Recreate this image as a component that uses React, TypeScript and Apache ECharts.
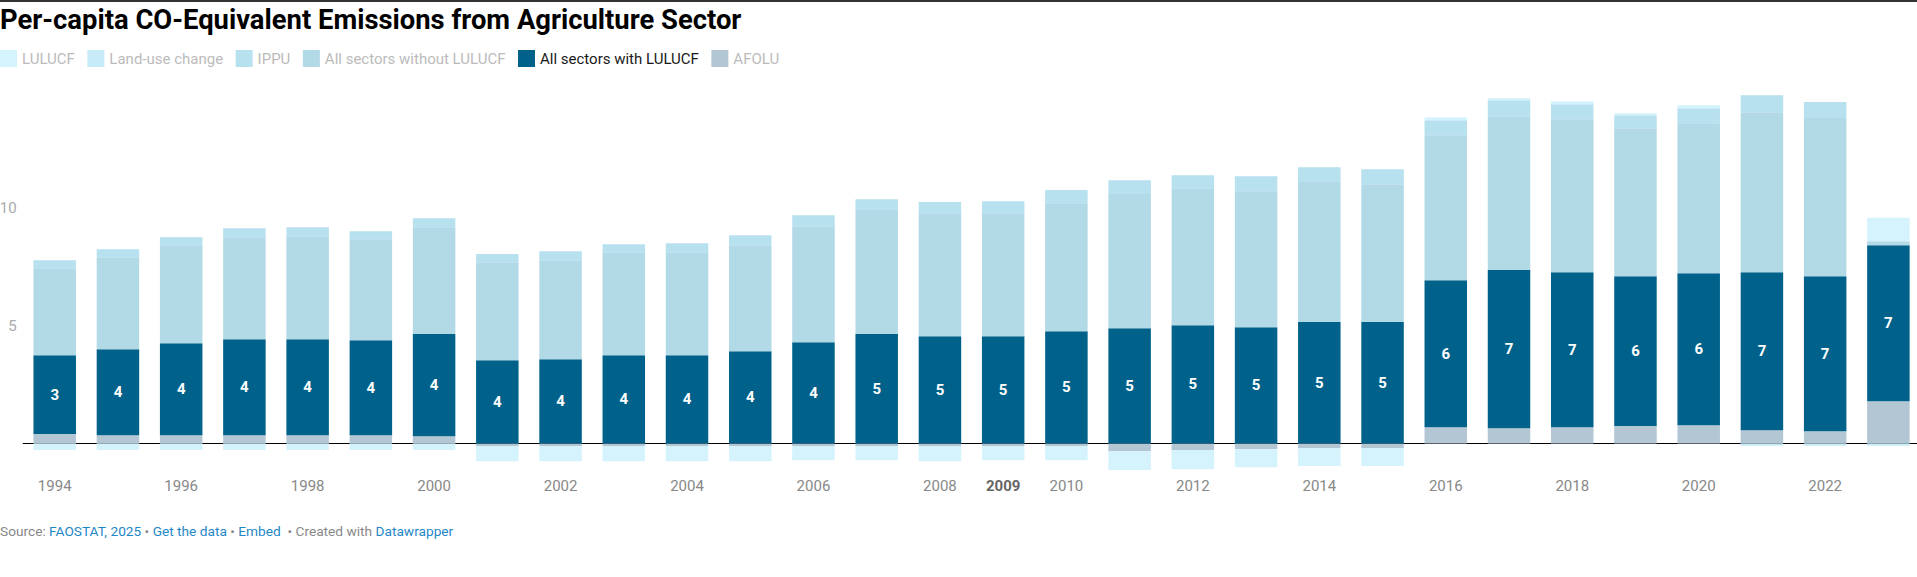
import React, { useEffect, useRef } from 'react';
import * as echarts from 'echarts';

const years = [
  '1994', '1995', '1996', '1997', '1998', '1999', '2000', '2001', '2002', '2003',
  '2004', '2005', '2006', '2007', '2008', '2009', '2010', '2011', '2012', '2013',
  '2014', '2015', '2016', '2017', '2018', '2019', '2020', '2021', '2022', '2023',
];

const afolu = [
  0.40, 0.35, 0.35, 0.35, 0.35, 0.35, 0.31, -0.11, -0.11, -0.11,
  -0.11, -0.11, -0.11, -0.11, -0.11, -0.11, -0.11, -0.33, -0.28, -0.24,
  -0.20, -0.20, 0.69, 0.65, 0.69, 0.74, 0.78, 0.56, 0.52, 1.80,
];

const allWithLulucf = [
  3.35, 3.66, 3.91, 4.08, 4.08, 4.04, 4.34, 3.54, 3.58, 3.75,
  3.75, 3.92, 4.30, 4.65, 4.56, 4.56, 4.77, 4.90, 5.03, 4.94,
  5.16, 5.16, 6.25, 6.72, 6.59, 6.37, 6.46, 6.72, 6.59, 6.63,
];

const allWithoutLulucf = [
  3.70, 3.91, 4.17, 4.34, 4.38, 4.29, 4.54, 4.16, 4.21, 4.38,
  4.38, 4.51, 4.93, 5.27, 5.23, 5.23, 5.44, 5.70, 5.82, 5.78,
  5.99, 5.86, 6.16, 6.54, 6.50, 6.29, 6.37, 6.80, 6.72, 0.17,
];

const ippu = [
  0.34, 0.34, 0.34, 0.38, 0.38, 0.34, 0.38, 0.35, 0.38, 0.34,
  0.38, 0.42, 0.47, 0.46, 0.47, 0.51, 0.56, 0.59, 0.55, 0.64,
  0.59, 0.64, 0.64, 0.68, 0.64, 0.55, 0.64, 0.72, 0.68, 0,
];

const landUseChange = [
  0, 0, 0, 0, 0, 0, 0, 0, 0, 0,
  0, 0, 0, 0, 0, 0, 0, 0, 0, 0,
  0, 0, 0, 0, 0, 0, 0, -0.1, -0.1, -0.1,
];

const lulucf = [
  -0.28, -0.28, -0.28, -0.28, -0.28, -0.28, -0.28, -0.64, -0.64, -0.64,
  -0.64, -0.64, -0.60, -0.60, -0.64, -0.60, -0.60, -0.80, -0.81, -0.77,
  -0.76, -0.76, 0.13, 0.09, 0.13, 0.09, 0.13, 0, 0, 0.99,
];

const yTickLabels = [5, 10];
const highlightYear = '2009';

const FONT = 'Roboto, "Noto Sans", sans-serif';

const COLORS: Record<string, string> = {
  'LULUCF': '#d4f3fd',
  'Land-use change': '#c6eaf6',
  'IPPU': '#b8e1ef',
  'All sectors without LULUCF': '#b2d9e6',
  'All sectors with LULUCF': '#00628a',
  'AFOLU': '#b3c6d4',
};

const legendOrder = [
  'LULUCF',
  'Land-use change',
  'IPPU',
  'All sectors without LULUCF',
  'All sectors with LULUCF',
  'AFOLU',
];

function makeSeries(name: string, data: number[], withLabel = false) {
  return {
    name,
    type: 'bar',
    stack: 'total',
    data,
    barWidth: 42.5,
    itemStyle: { color: COLORS[name] },
    emphasis: { disabled: true },
    label: withLabel
      ? {
          show: true,
          position: 'inside',
          color: '#ffffff',
          fontWeight: 'bold',
          fontSize: 15,
          fontFamily: FONT,
          formatter: (p: any) => String(Math.round(p.value)),
        }
      : { show: false },
  };
}

export default function App() {
  const ref = useRef<HTMLDivElement>(null);

  useEffect(() => {
    document.body.style.margin = '0';
    const chart = echarts.init(ref.current as HTMLDivElement, null, { renderer: 'svg' });
    const option: any = {
      animation: false,
      backgroundColor: '#ffffff',
      textStyle: { fontFamily: FONT },
      legend: {
        left: 0,
        top: 50,
        padding: 0,
        icon: 'rect',
        itemWidth: 17,
        itemHeight: 17,
        itemGap: 12.5,
        selectedMode: false,
        textStyle: { fontSize: 15, fontFamily: FONT, color: '#bbbbbb' },
        data: legendOrder.map((n) => ({
          name: n,
          textStyle: { color: n === 'All sectors with LULUCF' ? '#1a1a1a' : '#bbbbbb' },
        })),
      },
      grid: {
        left: 23.1,
        top: 90.55,
        width: 1896.9,
        height: 470.6,
        containLabel: false,
        outerBoundsMode: 'none',
      },
      xAxis: {
        type: 'category',
        data: years,
        axisLine: { show: true, onZero: true, lineStyle: { color: '#000000', width: 1 } },
        axisTick: { show: false },
        axisLabel: {
          interval: (index: number, value: string) => index % 2 === 0 || value === highlightYear,
          margin: -83,
          color: '#888888',
          fontSize: 15,
          fontFamily: FONT,
          formatter: (v: string) => (v === highlightYear ? '{b|' + v + '}' : v),
          rich: {
            b: { fontWeight: 'bold', color: '#666666', fontSize: 15, fontFamily: FONT },
          },
        },
        splitLine: { show: false },
      },
      yAxis: {
        type: 'value',
        min: -5,
        max: 15,
        interval: 5,
        axisLine: { show: false },
        axisTick: { show: false },
        splitLine: { show: false },
        axisLabel: {
          margin: 6.5,
          color: '#aaaaaa',
          fontSize: 15,
          fontFamily: FONT,
          formatter: (v: number) => (yTickLabels.indexOf(v) >= 0 ? String(v) : ''),
        },
      },
      series: [
        makeSeries('AFOLU', afolu),
        makeSeries('All sectors with LULUCF', allWithLulucf, true),
        makeSeries('All sectors without LULUCF', allWithoutLulucf),
        makeSeries('IPPU', ippu),
        makeSeries('Land-use change', landUseChange),
        makeSeries('LULUCF', lulucf),
      ],
      graphic: [
        { type: 'rect', left: 0, top: 0, shape: { width: 1917, height: 2 }, style: { fill: '#333333' }, silent: true },
        {
          type: 'text',
          left: 0,
          top: 6,
          style: {
            text: 'Per-capita CO-Equivalent Emissions from Agriculture Sector',
            fontSize: 27.4,
            fontWeight: 'bold',
            fontFamily: FONT,
            fill: '#000000',
          },
        },
        {
          type: 'text',
          left: 0,
          top: 524,
          style: {
            text:
              '{g|Source: }{l|FAOSTAT, 2025}{g| • }{l|Get the data}{g| • }{l|Embed}{g|  • Created with }{l|Datawrapper}',
            fontSize: 13.7,
            fontFamily: FONT,
            rich: {
              g: { fill: '#888888', fontSize: 13.7, fontFamily: FONT },
              l: { fill: '#1f87c7', fontSize: 13.7, fontFamily: FONT },
            },
          },
        },
      ],
    };
    chart.setOption(option);
    return () => chart.dispose();
  }, []);

  return (
    <div
      ref={ref}
      style={{ position: 'fixed', left: 0, top: 0, width: 1917, height: 577, background: '#ffffff' }}
    />
  );
}
